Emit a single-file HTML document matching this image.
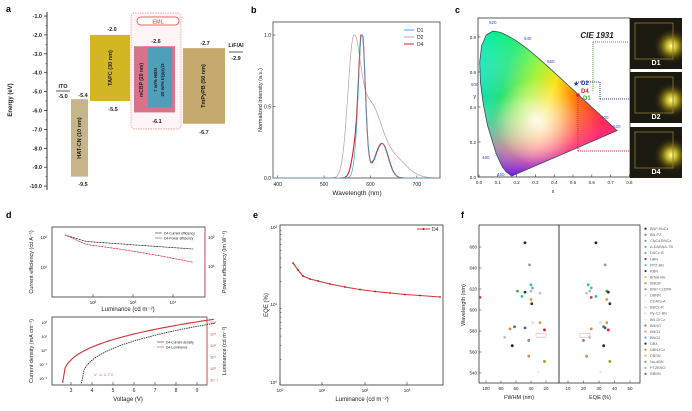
<!DOCTYPE html>
<html><head><meta charset="utf-8"><style>
html,body{margin:0;padding:0;background:#fff}
svg{display:block;font-family:"Liberation Sans",sans-serif}
</style></head><body>
<svg id="s" width="692" height="411" viewBox="0 0 692 411" xmlns="http://www.w3.org/2000/svg">
<defs>
<linearGradient id="cg1" x1="0" y1="0" x2="1" y2="0.3">
<stop offset="0" stop-color="#00e0e0"/><stop offset="0.25" stop-color="#20e080"/><stop offset="0.45" stop-color="#a0f020"/><stop offset="0.6" stop-color="#ffe000"/><stop offset="0.78" stop-color="#ff7000"/><stop offset="1" stop-color="#ff0020"/>
</linearGradient>
<linearGradient id="cg2" x1="0" y1="0" x2="0" y2="1">
<stop offset="0" stop-color="#00ff60" stop-opacity="0.5"/><stop offset="0.45" stop-color="#ffffff" stop-opacity="0"/><stop offset="0.8" stop-color="#ff40ff" stop-opacity="0.5"/><stop offset="1" stop-color="#6000ff" stop-opacity="0.9"/>
</linearGradient>
<radialGradient id="cw" cx="0.42" cy="0.62" r="0.3"><stop offset="0" stop-color="#fff" stop-opacity="0.9"/><stop offset="1" stop-color="#fff" stop-opacity="0"/></radialGradient>
<radialGradient id="glow" cx="0.8" cy="0.55" r="0.35"><stop offset="0" stop-color="#ffffa0"/><stop offset="0.3" stop-color="#c0b020"/><stop offset="1" stop-color="#201a08" stop-opacity="0"/></radialGradient>
</defs>
<g font-weight="bold" font-size="9">
<text x="6" y="12">a</text><text x="251" y="13">b</text><text x="455" y="13">c</text>
<text x="6" y="218">d</text><text x="253" y="218">e</text><text x="461" y="218">f</text>
</g>
<g id="g"></g>
</svg>
<script>
const g=document.getElementById('g');let h='';
function T(x,y,t,o={}){h+=`<text x="${x}" y="${y}" font-size="${o.s||5.5}" fill="${o.c||'#222'}" text-anchor="${o.a||'start'}" ${o.w?'font-weight="bold"':''} ${o.r?`transform="rotate(${o.r} ${x} ${y})"`:''} ${o.i?'font-style="italic"':''}>${t}</text>`}
function R(x,y,w,hh,f,o=''){h+=`<rect x="${x}" y="${y}" width="${w}" height="${hh}" fill="${f}" ${o}/>`}
function L(x1,y1,x2,y2,c='#222',w=0.8,o=''){h+=`<line x1="${x1}" y1="${y1}" x2="${x2}" y2="${y2}" stroke="${c}" stroke-width="${w}" ${o}/>`}
function P(pts,c,w=1,o=''){h+=`<polyline points="${pts.map(p=>p[0].toFixed(1)+','+p[1].toFixed(1)).join(' ')}" fill="none" stroke="${c}" stroke-width="${w}" ${o}/>`}
function C(x,y,r,f){h+=`<circle cx="${x}" cy="${y}" r="${r}" fill="${f}"/>`}
// ---- panel a
const ya=E=>16+(-1-E)*18.9;
L(47,12,47,190,'#333',1);
for(let i=1;i<=10;i++){const y=ya(-i);L(44,y,47,y,'#333',0.8);T(42,y+2,'-'+i+'.0',{a:'end',w:1,s:5.5});}
for(let i=1;i<10;i++){L(45.5,ya(-i-0.5),47,ya(-i-0.5),'#333',0.6);}
T(12,100,'Energy (eV)',{r:-90,a:'middle',w:1,s:6});
T(63,88,'ITO',{a:'middle',w:1});L(56,91,70,91,'#333',0.8);T(63,98,'-5.0',{a:'middle',w:1});
R(71,ya(-5.4),17,ya(-9.5)-ya(-5.4),'#c8b489');T(83,97,'-5.4',{a:'middle',w:1});T(83,186,'-9.5',{a:'middle',w:1});
T(81,138,'HAT-CN (10 nm)',{r:-90,a:'middle',w:1,s:5.5});
R(90,ya(-2),40,ya(-5.5)-ya(-2),'#d2b623');T(112,31,'-2.0',{a:'middle',w:1});T(113,111,'-5.5',{a:'middle',w:1});
T(112,68,'TAPC (30 nm)',{r:-90,a:'middle',w:1,s:5.5});
h+=`<rect x="131" y="13" width="50" height="116" rx="4" fill="#fff4f6" stroke="#e88" stroke-width="0.7" stroke-dasharray="1.5,1"/>`;
h+=`<rect x="137" y="17" width="42" height="8" rx="4" fill="#fff" stroke="#e33" stroke-width="0.7"/>`;T(158,23.5,'EML',{a:'middle',c:'#e22',s:5.5});
R(134,ya(-2.6),41,ya(-6.1)-ya(-2.6),'#d9718a');R(148,ya(-2.6)+1,24,ya(-6.1)-ya(-2.6)-6,'#4f9fbb');
T(156,43,'-2.6',{a:'middle',w:1});T(157,123,'-6.1',{a:'middle',w:1});
T(143,80,'mCBP (20 nm)',{r:-90,a:'middle',w:1,s:5});T(157,80,'7 wt% HBN',{r:-90,a:'middle',w:1,s:4.5});T(164,80,'20 wt% Ir(ppy)3',{r:-90,a:'middle',w:1,s:4.5});
R(183,ya(-2.7),42,ya(-6.7)-ya(-2.7),'#c5a86c');T(205,45,'-2.7',{a:'middle',w:1});T(204,134,'-6.7',{a:'middle',w:1});
T(205,86,'TmPyPB (50 nm)',{r:-90,a:'middle',w:1,s:5.5});
T(236,47,'LiF/Al',{a:'middle',w:1});L(229,52,243,52,'#333',0.8);T(236,60,'-2.9',{a:'middle',w:1});
// ---- panel b
R(273,22,167,156,'none','stroke="#444" stroke-width="0.8"');
const xb=w=>273+(w-390)*0.464,yb=v=>178-v*143;
[400,500,600,700].forEach(w=>{L(xb(w),178,xb(w),175.5,'#444',0.6);T(xb(w),186,w,{a:'middle',s:5});});
[0,0.5,1].forEach(v=>{L(273,yb(v),275.5,yb(v),'#444',0.6);T(271,yb(v)+2,v.toFixed(1),{a:'end',s:5});});
T(357,195,'Wavelength (nm)',{a:'middle',s:6.5});T(262,100,'Normalized intensity (a.u.)',{r:-90,a:'middle',s:5.5});
function gs(w,m,s){return Math.exp(-0.5*((w-m)/s)**2)}
function spec(f,c,sw){let p=[];for(let w=392;w<=750;w+=1.5)p.push([xb(w),yb(Math.min(1,f(w)))]);P(p,c,sw);}
spec(w=>0.88*gs(w,563,w<563?12:15)+0.45*gs(w,600,22)+0.15*gs(w,645,30),'#c9a3a8',0.8);
spec(w=>0.93*gs(w,582,7)+0.2*gs(w,568,w<568?8:10)+0.22*gs(w,626,13)+0.05*gs(w,600,20),'#d02020',1.1);
spec(w=>0.93*gs(w,582,7)+0.12*gs(w,570,w<570?6:10)+0.22*gs(w,625,13)+0.05*gs(w,600,20),'#3aaed8',0.7);
[['D1','#3aaed8',32],['D2','#c9a3a8',39],['D4','#d02020',46]].forEach(([n,c,y])=>{L(404,y-2,414,y-2,c,1);T(417,y,n,{s:5});});
// ---- panel c
R(478,18,152,159,'#fff','stroke="#333" stroke-width="0.8"');
const xc=x=>479+x*188,yc=y=>177-y*175;
const loc=[[0.1741,0.005],[0.144,0.0297],[0.124,0.0578],[0.0913,0.1327],[0.0454,0.295],[0.0235,0.4127],[0.0082,0.5384],[0.0039,0.6548],[0.0139,0.7502],[0.0389,0.812],[0.0743,0.8338],[0.1142,0.8262],[0.1547,0.8059],[0.1929,0.7816],[0.2296,0.7543],[0.2658,0.7243],[0.3016,0.6923],[0.3373,0.6589],[0.3731,0.6245],[0.4087,0.5896],[0.4441,0.5547],[0.4788,0.5202],[0.5125,0.4866],[0.5448,0.4544],[0.5752,0.4242],[0.627,0.3725],[0.6658,0.334],[0.6915,0.3083],[0.7347,0.2653]];
const lp=loc.map(p=>xc(p[0]).toFixed(1)+','+yc(p[1]).toFixed(1)).join(' ');
h+=`<polygon points="${lp}" fill="url(#cg1)"/><polygon points="${lp}" fill="url(#cg2)"/><polygon points="${lp}" fill="url(#cw)" stroke="#355" stroke-width="0.8"/>`;
for(let i=0;i<=8;i++){const x=xc(i/10);L(x,177,x,174.5,'#333',0.6);T(x,184,(i/10).toFixed(1),{a:'middle',s:4.5});}
for(let i=0;i<=4;i++){const y=yc(i/5);L(478,y,480.5,y,'#333',0.6);T(476,y+2,(i/5).toFixed(1),{a:'end',s:4.5});}
T(476,98,'y',{a:'end',s:5});T(553,193,'x',{a:'middle',s:5});
[['520',489,24],['540',524,40],['560',547,63],['500',471,86],['600',601,119],['620',613,128],['480',482,159],['460',497,176]].forEach(([t,x,y])=>T(x,y,t,{s:4.5,c:'#44c'}));
T(597,38,'CIE 1931',{a:'middle',w:1,i:1,s:8});
L(593,42,629,42,'#3a3',1,'stroke-dasharray="1,1"');L(593,42,593,92,'#3a3',1,'stroke-dasharray="1,1"');
L(576,82,600,82,'#33a',1,'stroke-dasharray="1,1"');L(600,82,600,99,'#33a',1,'stroke-dasharray="1,1"');L(600,99,629,99,'#33a',1,'stroke-dasharray="1,1"');
L(578,94,578,151,'#c33',1,'stroke-dasharray="1,1"');L(578,151,629,151,'#c33',1,'stroke-dasharray="1,1"');
T(573,86,'★',{c:'#2233aa',s:7});T(581,85,'D2',{c:'#2233aa',w:1,s:6});T(581,93,'D4',{c:'#d22',w:1,s:6});T(583,100,'D1',{c:'#3b3',w:1,s:6});C(578,95,1.8,'#d22');
[[18,'D1'],[72,'D2'],[127,'D4']].forEach(([y,n])=>{R(630,y,52,51,'#1c1a10');h+=`<rect x="630" y="${y}" width="52" height="51" fill="url(#glow)"/>`;R(635,y+5,38,36,'none','stroke="#8a7a30" stroke-width="0.8"');T(656,y+47,n,{a:'middle',w:1,c:'#fff',s:7});});
// ===== bottom row, offset 200
h+='<g transform="translate(0,200)">';
R(52,27,153,70,'none','stroke="#333" stroke-width="0.8"');
[[93,'10²'],[133,'10³'],[173,'10⁴']].forEach(([x,t])=>{L(x,97,x,94,'#333',0.6);T(x,104,t,{a:'middle',s:4.5});});
T(47,39,'10²',{a:'end',s:4.5});T(47,69,'10¹',{a:'end',s:4.5});
T(208,39,'10²',{s:4.5});T(208,68,'10¹',{s:4.5});
T(128,111,'Luminance (cd m⁻²)',{a:'middle',s:6});
T(33,62,'Current efficiency (cd A⁻¹)',{r:-90,a:'middle',s:5.5});T(226,62,'Power efficiency (lm W⁻¹)',{r:-90,a:'middle',s:5.5});
L(205,27,205,97,'#d44',0.8);
let ce=[],pe=[];for(let i=0;i<=40;i++){const x=65+i*3.2,t=i/40;ce.push([x,35+5*Math.min(1,t*6)+9*t]);pe.push([x,35+7*Math.min(1,t*6)+21*t*t*0.3+20*t*0.7]);}
P(ce,'#333',0.8,'stroke-dasharray="0.8,2.2" stroke-linecap="round"');P(ce,'#333',0.4);P(pe,'#c33',0.8,'stroke-dasharray="0.8,2.2" stroke-linecap="round"');P(pe,'#c33',0.4);
L(155,33,162,33,'#333',0.6);T(164,34.5,'D4-Current efficiency',{s:3.3});L(155,38,162,38,'#c33',0.6);T(164,39.5,'D4-Power efficiency',{s:3.3});
R(52,117,155,68,'none','stroke="#333" stroke-width="0.8"');
const xv=v=>71+(v-3)*21;
for(let v=3;v<=9;v++){L(xv(v),185,xv(v),182,'#333',0.6);T(xv(v),192,v,{a:'middle',s:5});}
['10²','10¹','10⁰','10⁻¹','10⁻²'].forEach((t,i)=>T(47,124+i*14,t,{a:'end',s:4}));
['10⁴','10³','10²','10¹','10⁰','10⁻¹'].forEach((t,i)=>T(210,124+i*11.5,t,{s:4,c:'#c44'}));
T(128,201,'Voltage (V)',{a:'middle',s:6});
T(33,151,'Current density (mA cm⁻²)',{r:-90,a:'middle',s:5.5});T(226,151,'Luminance (cd m⁻²)',{r:-90,a:'middle',s:5.5});
L(207,117,207,185,'#d44',0.8);
let jd=[],lm=[];for(let v=3.5;v<=9.9;v+=0.12){jd.push([xv(v),183-60*Math.pow((v-3.5)/6.4,0.38)]);}
for(let v=2.6;v<=9.9;v+=0.12){lm.push([xv(v),183-64*Math.pow((v-2.6)/7.3,0.35)]);}
P(jd,'#333',0.9,'stroke-dasharray="0.8,1.5" stroke-linecap="round"');P(lm,'#c33',1.1);
L(157,142,164,142,'#333',0.6);T(166,143.5,'D4-Current density',{s:3.3});L(157,147,164,147,'#c33',0.6);T(166,148.5,'D4-Luminance',{s:3.3});
T(94,176,'V',{s:4,c:'#c66'});T(99,176,'on',{s:3,c:'#c66'});T(104,176,'2.7 V',{s:4,c:'#c66'});
// panel e
R(280,25,163,160,'none','stroke="#333" stroke-width="0.8"');
[[280,'10⁰'],[322,'10¹'],[365,'10²'],[407,'10³']].forEach(([x,t])=>{L(x,185,x,182,'#333',0.6);T(x,192,t,{a:'middle',s:4.5});});
[[29,'10²'],[106,'10¹'],[184,'10⁰']].forEach(([y,t])=>T(277,y,t,{a:'end',s:4.5}));
for(let d=0;d<2;d++)for(let k=2;k<10;k++){const y=183-78*(d+Math.log10(k));L(280,y,281.5,y,'#333',0.5);}
T(362,201,'Luminance (cd m⁻²)',{a:'middle',s:6});T(268,105,'EQE (%)',{r:-90,a:'middle',s:6});
let eq=[[293,63],[298,70],[303,76],[310,79],[318,81],[330,84],[345,87],[360,89.5],[375,91.5],[390,93],[405,94.5],[420,95.5],[440,97]];
P(eq,'#d33',1.1);eq.forEach(p=>C(p[0],p[1],0.9,'#822'));
L(417,29,430,29,'#d33',1);C(423.5,29,1,'#822');T(432,31,'D4',{s:5});
// panel f
R(479,25,80,158,'none','stroke="#333" stroke-width="0.8"');R(559,25,81,158,'none','stroke="#333" stroke-width="0.8"');
const xf=f=>486+(100-f)*0.75,xe=e=>568+(e-10)*1.55,yf=w=>47+(660-w)*1.05;
[100,80,60,40,20].forEach(f=>{L(xf(f),183,xf(f),180.5,'#333',0.5);T(xf(f),190,f,{a:'middle',s:4.5});});
[10,20,30,40,50].forEach(e=>{L(xe(e),183,xe(e),180.5,'#333',0.5);T(xe(e),190,e,{a:'middle',s:4.5});});
[660,640,620,600,580,560,540].forEach(w=>{L(479,yf(w),481.5,yf(w),'#333',0.5);T(477,yf(w)+1.5,w,{a:'end',s:4.5});});
T(519,199,'FWHM (nm)',{a:'middle',s:5.5});T(600,199,'EQE (%)',{a:'middle',s:5.5});T(465,105,'Wavelength (nm)',{r:-90,a:'middle',s:5.5});
const pts=[[48,28,664,'#222'],[42,34,643,'#999'],[40,23,624,'#3bb'],[38,25,621,'#7ab'],[52,28,613,'#3bb'],[40,24,618,'#8cc'],[58,35,618,'#4a4'],[48,36,617,'#333'],[39,37,606,'#333'],[40,35,610,'#d93'],[28,22,616,'#dbb'],[110,25,612,'#c44'],[62,33,584,'#666'],[68,25,582,'#d84'],[48,34,583,'#36a'],[28,35,588,'#d93'],[38,31,588,'#dde'],[22,36,581,'#d22'],[75,24,574,'#bbe'],[43,20,571,'#888'],[65,33,566,'#222'],[43,22,556,'#d84'],[22,37,551,'#8a2'],[30,31,541,'#eee']];
pts.forEach(([f,e,w,c])=>{C(Math.max(480,xf(f)),yf(w),1.4,c);C(xe(e),yf(w),1.4,c);});
R(536,yf(576)-2,10,4,'none','stroke="#e99" stroke-width="0.5"');R(580,yf(576)-2,10,4,'none','stroke="#e99" stroke-width="0.5"');
const ln=['BNP-BuCz','BN-PZ','CNCz-BNCz','Δ-DABNA-TB','DACz-B','HBN','PPZ-BN','RBN','BrNB-Me','BNDIF','BNP-CzDPA','DBNN','DDATa-A','BBCz-R','Py-Cz-BN','BN-DICz','BNNO','BNO1','BNO2','DB3','DBN-ICz','DBSN','Na-dBN','PTZBNO','RBNN'];
const lc=['#222','#c66','#4aa','#999','#6aa','#d22','#4cc','#333','#db6','#d84','#99a','#ddd','#eee','#ccd','#dde','#eed','#a66','#d93','#6ab','#333','#8a2','#db4','#69c','#9c4','#574'];
ln.forEach((n,i)=>{const y=30+i*6.05;C(645.5,y-1.3,1.1,lc[i]);T(650,y,n,{s:3.8,c:'#666'});});
h+='</g>';
g.innerHTML=h;
</script>
</body></html>
